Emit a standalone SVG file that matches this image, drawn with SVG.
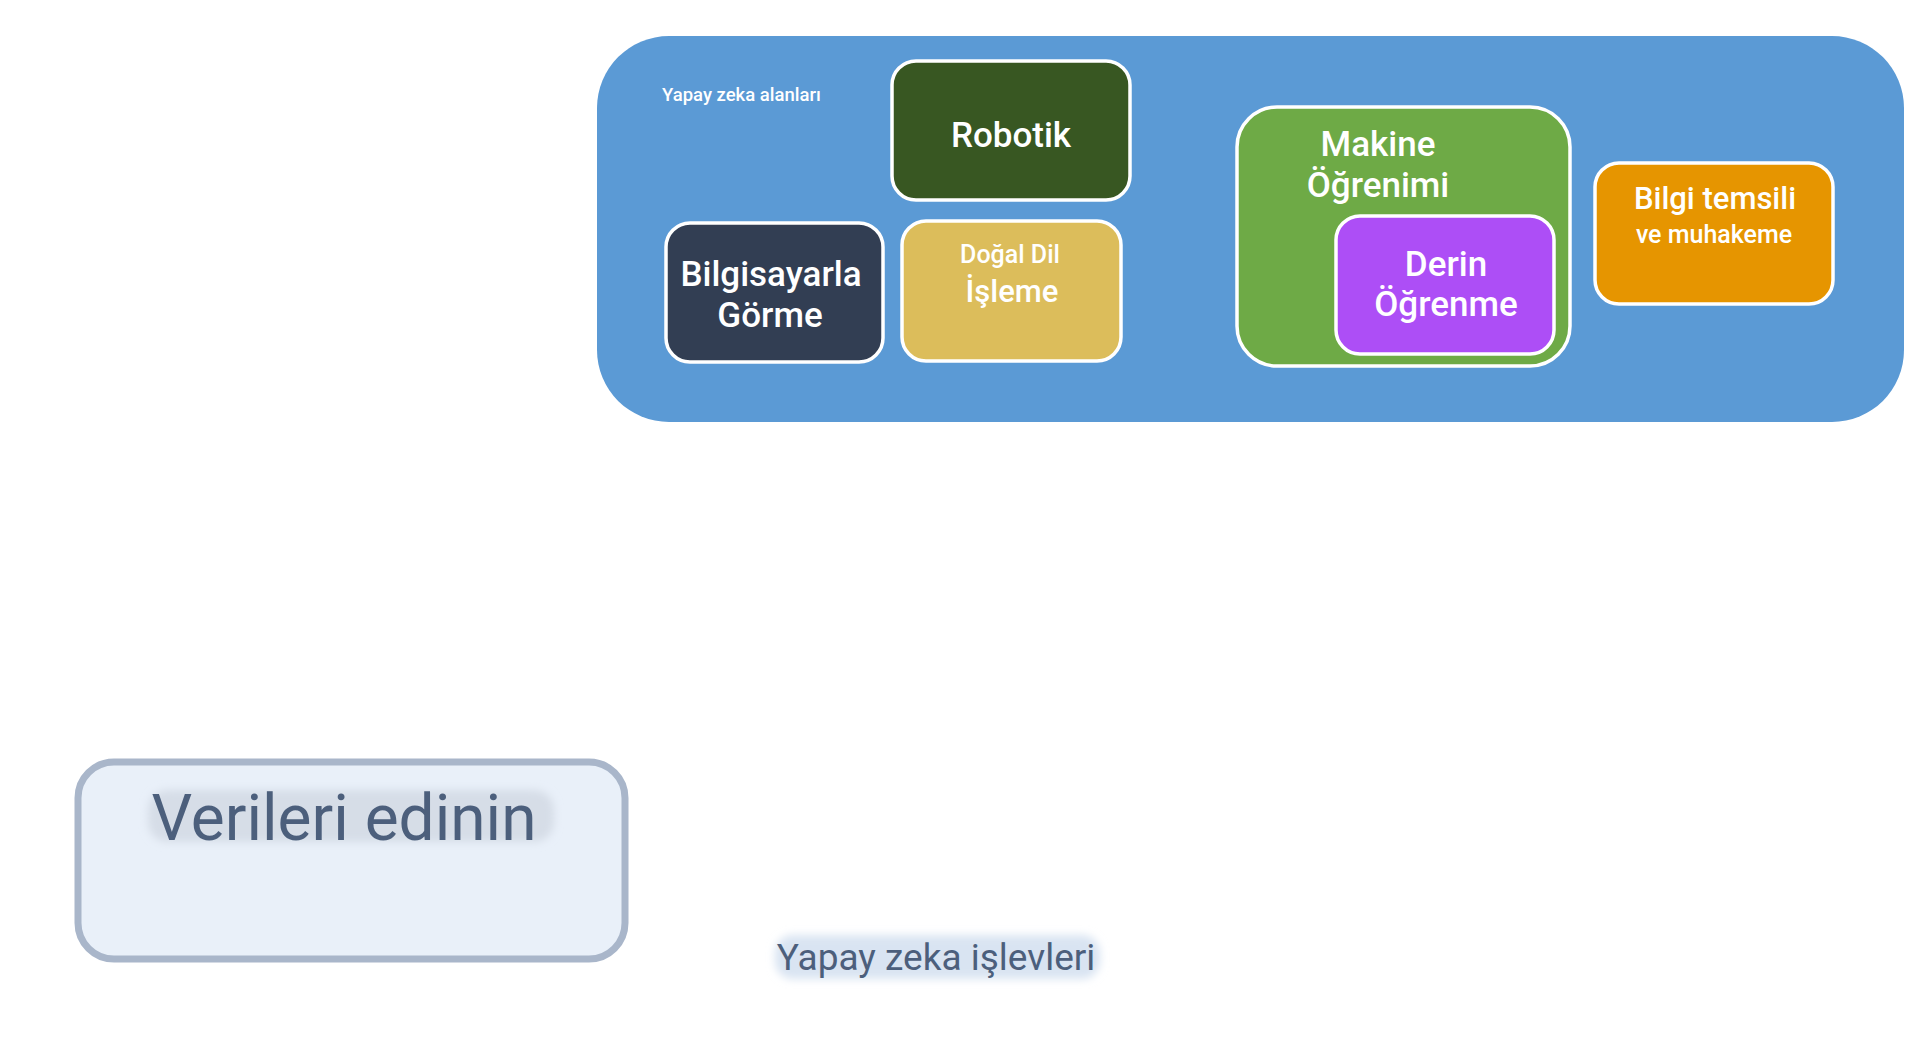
<svg xmlns="http://www.w3.org/2000/svg" width="1927" height="1037" viewBox="0 0 1927 1037">
<defs>
<filter id="blur" x="-20%" y="-50%" width="140%" height="200%"><feGaussianBlur stdDeviation="4"/></filter>
<style>
.box{stroke:#ffffff;stroke-width:3.5;}
.t{font-family:Roboto,"Noto Sans",sans-serif;font-weight:500;fill:#ffffff;text-anchor:middle;}
.big{font-size:35px;}
.lab{font-family:Roboto,"Noto Sans",sans-serif;fill:#4c5f7c;text-anchor:middle;}
</style>
</defs>
<rect width="1927" height="1037" fill="#ffffff"/>
<g id="ai-fields">
<rect x="597" y="36" width="1307" height="386" rx="72" fill="#5b9ad5"/>
<text x="662" y="101" font-family="Roboto,'Noto Sans',sans-serif" font-weight="500" font-size="18.5" fill="#ffffff">Yapay zeka alanları</text>
</g>
<g id="robotik">
<rect class="box" x="892" y="61" width="238" height="139" rx="24" fill="#385722"/>
<text class="t big" x="1011" y="147">Robotik</text>
</g>
<g id="bilgisayarla-gorme">
<rect class="box" x="666" y="223" width="217" height="139" rx="24" fill="#323e53"/>
<text class="t big" x="771" y="286">Bilgisayarla</text>
<text class="t big" x="770" y="327">Görme</text>
</g>
<g id="dogal-dil">
<rect class="box" x="902" y="221" width="219" height="140" rx="24" fill="#dcbd5b"/>
<text class="t" font-size="25" x="1010" y="263">Doğal Dil</text>
<text class="t" x="1012" y="302" font-size="31">İşleme</text>
</g>
<g id="makine-ogrenimi">
<rect class="box" x="1237" y="107" width="333" height="259" rx="40" fill="#6eaa46"/>
<text class="t big" x="1378" y="156">Makine</text>
<text class="t big" x="1378" y="197">Öğrenimi</text>
</g>
<g id="derin-ogrenme">
<rect class="box" x="1336" y="216" width="218" height="138" rx="24" fill="#ad4ef6"/>
<text class="t big" x="1446" y="276">Derin</text>
<text class="t big" x="1446" y="316">Öğrenme</text>
</g>
<g id="bilgi-temsili">
<rect class="box" x="1595" y="163" width="238" height="141" rx="24" fill="#e69500"/>
<text class="t" font-size="31" x="1715" y="209">Bilgi temsili</text>
<text class="t" font-size="25" x="1714" y="243">ve muhakeme</text>
</g>
<g id="verileri-edinin">
<rect x="78" y="762" width="547" height="197" rx="36" fill="#e9f0f9" stroke="#a9b6ca" stroke-width="7"/>
<rect x="148" y="790" width="406" height="52" rx="20" fill="#d6dde7" filter="url(#blur)"/>
<text class="lab" x="344" y="840" font-size="64">Verileri edinin</text>
</g>
<g id="ai-functions">
<rect x="775" y="935" width="325" height="44" rx="18" fill="#d9e4f2" filter="url(#blur)"/>
<text class="lab" x="936" y="970" font-size="37">Yapay zeka işlevleri</text>
</g>
<g id="connectors"></g>
</svg>
